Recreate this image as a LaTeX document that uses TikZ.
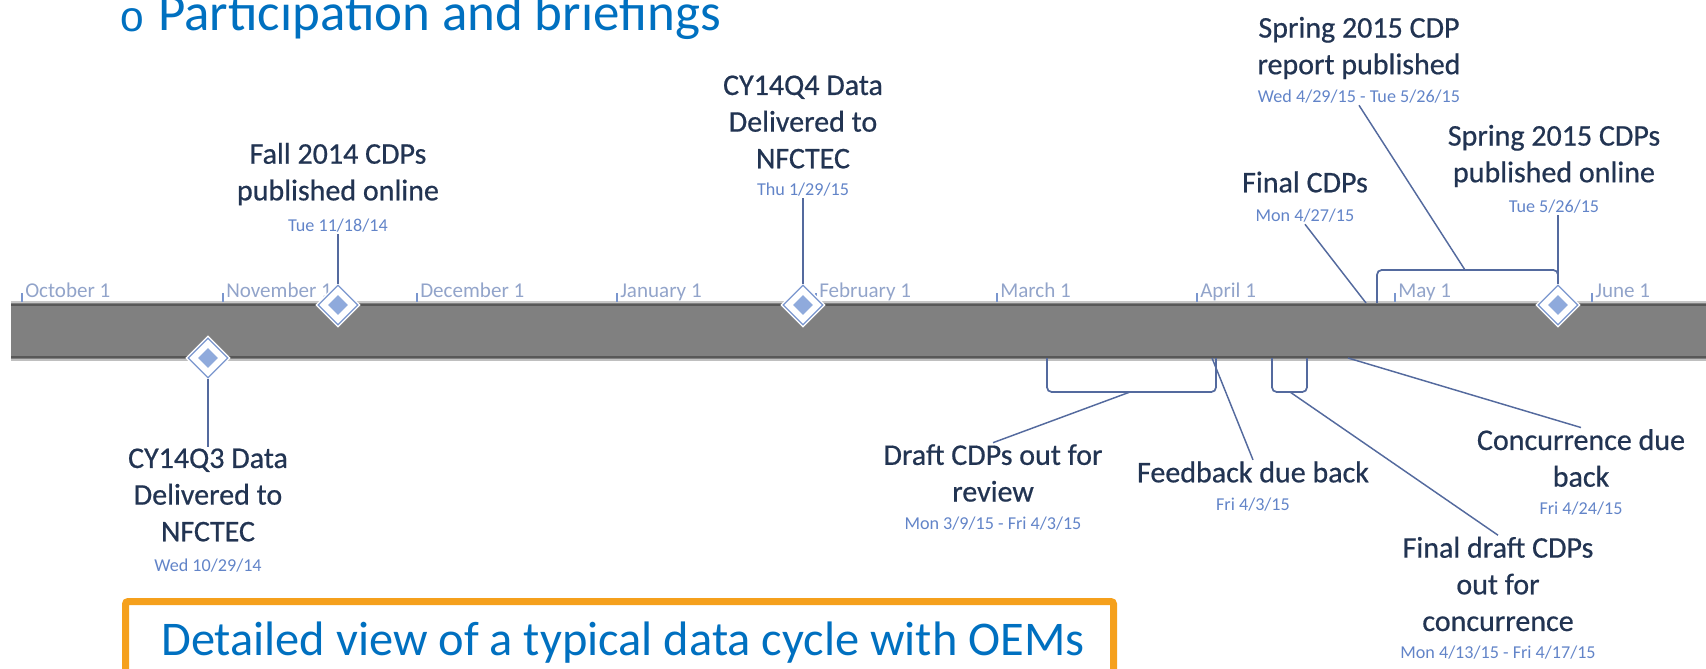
\documentclass[tikz,border=0pt]{standalone}
\usepackage{fontspec}
\setmainfont{Carlito}
\newfontfamily\bulletfont{Liberation Mono}
\newfontfamily\evfont[FakeBold=0.6]{Carlito}
\usetikzlibrary{shapes.geometric,positioning}

\definecolor{evtextcol}{RGB}{34,52,82}
\definecolor{datecol}{RGB}{98,132,200}
\definecolor{monthcol}{RGB}{146,164,202}
\definecolor{leadblue}{RGB}{84,106,158}
\definecolor{msfill}{RGB}{143,170,220}
\definecolor{msline}{RGB}{122,150,206}
\definecolor{bargray}{RGB}{128,128,128}
\definecolor{baredge}{RGB}{88,88,88}
\definecolor{slideblue}{RGB}{0,112,192}
\definecolor{boxorange}{RGB}{245,160,28}

\begin{document}
\begin{tikzpicture}
[
    x = 0.75pt, y = -0.75pt,
    evtext/.style = {align=center, text=evtextcol, inner sep=1pt, font=\evfont\fontsize{22.5}{27.5}\selectfont},
    evdate/.style = {text=datecol, inner sep=1pt, font=\fontsize{13.6}{16}\selectfont},
    monthname/.style = {anchor=base west, text=monthcol, inner sep=0pt, font=\fontsize{15.8}{18}\selectfont},
    leadline/.style = {draw=leadblue, line width=1.1pt},
    bracketline/.style = {draw=leadblue, line width=1.3pt, rounded corners=3.5pt},
    msouter/.style = {diamond, draw=white, double=msline, line width=1.1pt, double distance=0.9pt, fill=white, minimum size=30pt, inner sep=0pt},
    msinner/.style = {diamond, fill=msfill, minimum size=15pt, inner sep=0pt},
]
\useasboundingbox (0,0) rectangle (1706,668);
\clip (0,0) rectangle (1706,668);

% slide heading
\node[text=slideblue, font=\bulletfont\fontsize{32}{36}\selectfont, inner sep=0pt] (bullet) at (132,20) {o};
\node[anchor=base west, text=slideblue, font=\fontsize{39.7}{48}\selectfont, inner sep=0pt] (heading) at (158,30) {Participation and briefings};

% timeline bar
\fill[bargray] (11,303) rectangle (1712,360);
\draw[black!22, line width=1.1pt] (11,302) -- (1712,302);
\draw[baredge, line width=2pt] (11,305) -- (1712,305);
\draw[baredge, line width=2pt] (11,357) -- (1712,357);
\draw[black!25, line width=1.1pt] (11,360) -- (1712,360);

\foreach \mx/\mname in {22/October 1, 223/November 1, 417/December 1, 617/January 1, 816/February 1, 997/March 1, 1197/April 1, 1395/May 1, 1592/June 1}
{
    \draw[msline, line width=0.9pt] (\mx,293) -- (\mx,302);
    \node[monthname] (m\mx) at (\mx+3,297) {\mname};
}

% brackets
\draw[bracketline] (1377,303) |- (1558,270) -- (1558,303);
\draw[bracketline] (1047,358) |- (1216,392) -- (1216,358);
\draw[bracketline] (1272,358) |- (1307,392) -- (1307,358);
\coordinate (reportpt) at (1465,270);
\coordinate (finalpt) at (1366,303);
\coordinate (draftpt) at (1130,392);
\coordinate (feedpt) at (1212,358);
\coordinate (fdpt) at (1290,392);
\coordinate (concpt) at (1348,358);

% milestones
\node[msouter] (fallms) at (338,305) {};
\node[msinner] (fallmsin) at (fallms) {};
\node[msouter] (q3ms) at (208,358) {};
\node[msinner] (q3msin) at (q3ms) {};
\node[msouter] (q4ms) at (803,305) {};
\node[msinner] (q4msin) at (q4ms) {};
\node[msouter] (onlinems) at (1558,305) {};
\node[msinner] (onlinemsin) at (onlinems) {};

% above the bar
\node[evtext] (fall) at (338,174) {Fall 2014 CDPs\\published online};
\node[evdate] (falldate) at (338,226) {Tue 11/18/14};
\node[evtext] (q4) at (803,122) {CY14Q4 Data\\Delivered to\\NFCTEC};
\node[evdate] (q4date) at (803,190) {Thu 1/29/15};
\node[evtext] (final) at (1305,182) {Final CDPs};
\node[evdate] (finaldate) at (1305,216) {Mon 4/27/15};
\node[evtext] (report) at (1359,48) {Spring 2015 CDP\\report published};
\node[evdate] (reportdate) at (1359,97) {Wed 4/29/15 - Tue 5/26/15};
\node[evtext] (online) at (1554,156) {Spring 2015 CDPs\\published online};
\node[evdate] (onlinedate) at (1554,207) {Tue 5/26/15};

% below the bar
\node[evtext] (q3) at (208,495) {CY14Q3 Data\\Delivered to\\NFCTEC};
\node[evdate] (q3date) at (208,566) {Wed 10/29/14};
\node[evtext] (draft) at (993,473) {Draft CDPs out for\\review};
\node[evdate] (draftdate) at (993,524) {Mon 3/9/15 - Fri 4/3/15};
\node[evtext] (feedback) at (1253,472) {Feedback due back};
\node[evdate] (feedbackdate) at (1253,505) {Fri 4/3/15};
\node[evtext] (conc) at (1581,458) {Concurrence due\\back};
\node[evdate] (concdate) at (1581,509) {Fri 4/24/15};
\node[evtext] (finaldraft) at (1498,584) {Final draft CDPs\\out for\\concurrence};
\node[evdate] (finaldraftdate) at (1498,653) {Mon 4/13/15 - Fri 4/17/15};

% leaders
\draw[leadline] (falldate) -- (fallms);
\draw[leadline] (q4date) -- (q4ms);
\draw[leadline] (finaldate.south) -- (finalpt);
\draw[leadline] (reportdate.south) -- (reportpt);
\draw[leadline] (onlinems.north) -- (onlinems.north |- onlinedate.south);
\draw[leadline] (q3ms) -- (q3);
\draw[leadline] (draftpt) -- (draft.north);
\draw[leadline] (feedpt) -- (feedback.north);
\draw[leadline] (concpt) -- (conc.north);
\draw[leadline] (fdpt) -- (finaldraft.north);

% caption box
\draw[boxorange, line width=5.25pt, fill=white, rounded corners=2pt] (125.5,601.5) rectangle (1113.5,720);
\node[anchor=base west, text=slideblue, font=\fontsize{36.3}{44}\selectfont, inner sep=0pt] (cycle) at (161,655) {Detailed view of a typical data cycle with OEMs};
\end{tikzpicture}
\end{document}
